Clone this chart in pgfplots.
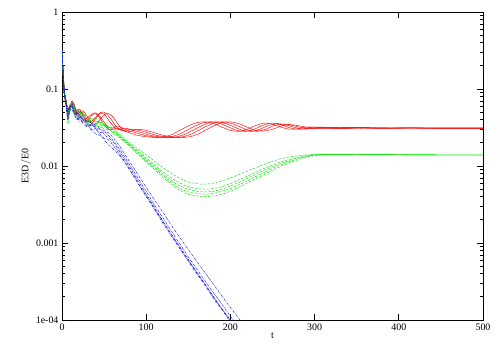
\documentclass[border=0pt]{standalone}
\usepackage{pgfplots}
\pgfplotsset{compat=1.18}
\usepackage{fontspec}
\setmainfont{Liberation Serif}
\definecolor{gpred}{rgb}{1,0,0}
\definecolor{gpgreen}{rgb}{0,0.9,0}
\definecolor{gpblue}{rgb}{0.1,0.1,0.9}
\pgfplotsset{
  redl/.style={gpred, line width=0.45pt, smooth, tension=0.5},
  grnl/.style={gpgreen, line width=0.45pt, smooth, tension=0.5, dash pattern=on 2.5pt off 1.5pt},
  blul/.style={gpblue, line width=0.45pt, smooth, tension=0.5, dash pattern=on 2.5pt off 1pt on 0.5pt off 1pt},
}
\begin{document}
\begin{tikzpicture}
\useasboundingbox (-62bp,-30bp) rectangle (438bp,320bp);
\begin{axis}[
  at={(0,0)}, anchor=south west,
  width=421bp, height=308bp, scale only axis,
  xmin=0, xmax=500, ymin=1e-4, ymax=1, ymode=log,
  xtick={0,100,200,300,400,500},
  ytick={1e-4,1e-3,1e-2,1e-1,1},
  yticklabels={1e-04,0.001,0.01,0.1,1},
  minor ytick={2e-4,3e-4,4e-4,5e-4,6e-4,7e-4,8e-4,9e-4,
               2e-3,3e-3,4e-3,5e-3,6e-3,7e-3,8e-3,9e-3,
               2e-2,3e-2,4e-2,5e-2,6e-2,7e-2,8e-2,9e-2,
               0.2,0.3,0.4,0.5,0.6,0.7,0.8,0.9},
  tick align=inside, xtick pos=both, ytick pos=both,
  major tick length=6bp, minor tick length=3bp,
  tick style={draw=black, line width=0.8pt},
  minor tick style={draw=black, line width=0.7pt},
  ticklabel style={font=\fontsize{10}{12}\selectfont},
  label style={font=\fontsize{10}{12}\selectfont},
  /pgf/number format/assume math mode=true,
  xlabel={t}, ylabel={E3D\kern0.3pt$/$\kern0.3pt E0},
  xlabel style={yshift=4bp},
  ylabel style={yshift=-2bp},
  axis line style={line width=0.6pt},
  clip=true,
]
% ---------------- red (solid) ----------------
\addplot[redl] table {
0 0.31
1 0.19
2 0.12
3 0.09
5 0.07
7 0.05
9 0.055
12 0.068
15 0.06
18 0.05
21 0.052
25 0.045
30 0.038
35 0.045
40 0.048
45 0.042
50 0.034
55 0.030
60 0.030
65 0.031
70 0.030
80 0.027
90 0.025
100 0.024
110 0.0235
120 0.0238
130 0.0255
140 0.029
150 0.033
160 0.0365
170 0.0375
180 0.0355
190 0.032
200 0.029
210 0.0282
220 0.030
230 0.0335
240 0.036
250 0.035
260 0.032
270 0.030
280 0.0305
290 0.032
300 0.032
310 0.031
320 0.0308
330 0.0313
340 0.0316
350 0.0312
370 0.031
400 0.0312
450 0.031
500 0.031
};
\addplot[redl] table {
0 0.32
1 0.2
2 0.12
3 0.08
5 0.06
7 0.05
9 0.06
12 0.062
15 0.05
18 0.05
21 0.046
25 0.04
30 0.042
35 0.047
40 0.049
45 0.044
50 0.037
55 0.032
60 0.031
65 0.033
70 0.032
78 0.029
88 0.027
98 0.025
108 0.024
118 0.0235
128 0.0238
138 0.0255
148 0.029
158 0.033
168 0.0365
178 0.0375
188 0.0355
198 0.032
208 0.029
218 0.0282
228 0.030
238 0.0335
248 0.036
258 0.035
268 0.032
278 0.030
288 0.0305
298 0.032
308 0.032
318 0.031
328 0.0308
338 0.0313
348 0.0316
358 0.0312
378 0.031
408 0.0312
458 0.031
500 0.031
};
\addplot[redl] table {
0 0.32
1 0.18
2 0.11
3 0.08
5 0.065
7 0.04
9 0.052
12 0.065
15 0.058
18 0.045
21 0.05
25 0.048
30 0.04
35 0.036
40 0.041
45 0.048
50 0.047
55 0.040
60 0.034
65 0.030
70 0.030
75 0.031
85 0.029
95 0.027
105 0.025
115 0.024
125 0.0235
135 0.0238
145 0.0255
155 0.029
165 0.033
175 0.0365
185 0.0375
195 0.0355
205 0.032
215 0.029
225 0.0282
235 0.030
245 0.0335
255 0.0355
265 0.0345
275 0.032
285 0.0302
295 0.0305
305 0.0318
315 0.0318
325 0.031
335 0.0308
345 0.0313
355 0.0316
365 0.0312
385 0.031
415 0.0312
465 0.031
500 0.031
};
\addplot[redl] table {
0 0.32
1 0.19
2 0.12
3 0.09
5 0.07
7 0.055
9 0.06
12 0.058
15 0.048
18 0.052
21 0.055
25 0.045
30 0.038
35 0.038
40 0.043
45 0.049
50 0.050
55 0.045
60 0.038
65 0.032
70 0.029
75 0.029
82 0.030
92 0.029
102 0.027
112 0.025
122 0.024
132 0.0235
142 0.0238
152 0.0255
162 0.029
172 0.033
182 0.0365
192 0.0375
202 0.0355
212 0.032
222 0.029
232 0.0282
242 0.030
252 0.0335
262 0.035
272 0.034
282 0.032
292 0.0305
302 0.0308
312 0.0318
322 0.0318
332 0.031
342 0.0308
352 0.0313
362 0.0315
372 0.0312
392 0.031
422 0.0312
472 0.031
500 0.031
};
\addplot[redl] table {
0 0.32
1 0.2
2 0.13
3 0.09
5 0.06
7 0.048
9 0.058
12 0.07
15 0.06
18 0.048
21 0.05
25 0.052
30 0.044
35 0.036
40 0.035
45 0.040
50 0.046
55 0.048
60 0.044
65 0.037
70 0.031
75 0.028
80 0.028
90 0.030
100 0.029
110 0.027
120 0.025
130 0.024
140 0.0235
150 0.0238
160 0.0255
170 0.029
180 0.033
190 0.0365
200 0.0375
210 0.0355
220 0.032
230 0.029
240 0.0285
250 0.030
260 0.033
270 0.0345
280 0.0335
290 0.032
300 0.031
310 0.0308
320 0.0315
330 0.0317
340 0.0312
350 0.0309
360 0.0312
380 0.0313
400 0.031
450 0.0311
500 0.031
};
% ---------------- green (dashed) ----------------
\addplot[grnl] table {
0 0.32
1 0.19
2 0.12
3 0.085
5 0.06
7 0.035
9 0.05
12 0.065
15 0.05
18 0.04
21 0.048
25 0.045
30 0.036
35 0.033
40 0.038
45 0.037
50 0.034
55 0.033
60 0.031
70 0.025
80 0.020
90 0.0168
100 0.0140
110 0.0115
120 0.0095
130 0.0080
140 0.0069
150 0.0062
160 0.0059
170 0.0058
180 0.0060
190 0.0064
200 0.0070
210 0.0077
220 0.0086
230 0.0095
240 0.0105
250 0.0115
260 0.0124
270 0.0131
280 0.0136
290 0.0139
300 0.0141
320 0.0142
350 0.0141
400 0.0140
450 0.0139
500 0.0139
};
\addplot[grnl] table {
0 0.32
1 0.2
2 0.12
3 0.08
5 0.065
7 0.05
9 0.062
12 0.06
15 0.048
18 0.05
21 0.052
25 0.042
30 0.038
35 0.042
40 0.036
45 0.031
50 0.033
55 0.032
60 0.030
70 0.024
80 0.0195
90 0.0158
100 0.0128
110 0.0103
120 0.0084
130 0.0070
140 0.0060
150 0.0054
160 0.0051
170 0.0050
180 0.0051
190 0.0054
200 0.0059
210 0.0066
220 0.0074
230 0.0083
240 0.0093
250 0.0103
260 0.0113
270 0.0122
280 0.0130
290 0.0136
300 0.0140
320 0.0142
350 0.0141
400 0.0140
450 0.0139
500 0.0139
};
\addplot[grnl] table {
0 0.32
1 0.18
2 0.11
3 0.08
5 0.058
7 0.045
9 0.058
12 0.066
15 0.055
18 0.045
21 0.045
25 0.05
30 0.042
35 0.034
40 0.034
45 0.038
50 0.035
55 0.031
60 0.029
70 0.0235
80 0.019
90 0.0152
100 0.0122
110 0.0098
120 0.0079
130 0.0065
140 0.0055
150 0.0050
160 0.0047
170 0.0046
180 0.0047
190 0.0050
200 0.0055
210 0.0061
220 0.0069
230 0.0078
240 0.0088
250 0.0098
260 0.0108
270 0.0118
280 0.0127
290 0.0134
300 0.0139
320 0.0142
350 0.0141
400 0.0140
450 0.0139
500 0.0139
};
\addplot[grnl] table {
0 0.32
1 0.19
2 0.12
3 0.09
5 0.068
7 0.052
9 0.056
12 0.058
15 0.05
18 0.054
21 0.05
25 0.04
30 0.036
35 0.04
40 0.042
45 0.036
50 0.03
55 0.030
60 0.028
70 0.023
80 0.0185
90 0.0147
100 0.0117
110 0.0094
120 0.0075
130 0.0061
140 0.0051
150 0.0046
160 0.0044
170 0.0043
180 0.0044
190 0.0047
200 0.0051
210 0.0057
220 0.0064
230 0.0073
240 0.0082
250 0.0093
260 0.0104
270 0.0114
280 0.0124
290 0.0132
300 0.0138
320 0.0142
350 0.0141
400 0.0140
450 0.0139
500 0.0139
};
\addplot[grnl] table {
0 0.32
1 0.2
2 0.13
3 0.09
5 0.062
7 0.042
9 0.05
12 0.062
15 0.058
18 0.046
21 0.042
25 0.046
30 0.045
35 0.037
40 0.032
45 0.033
50 0.034
55 0.031
60 0.027
70 0.0225
80 0.018
90 0.0142
100 0.0113
110 0.0090
120 0.0071
130 0.0058
140 0.0048
150 0.0043
160 0.0041
170 0.0040
180 0.0041
190 0.0043
200 0.0047
210 0.0053
220 0.0060
230 0.0068
240 0.0077
250 0.0088
260 0.0099
270 0.0110
280 0.0120
290 0.0129
300 0.0136
320 0.0141
350 0.0141
400 0.0140
450 0.0139
500 0.0139
};
% ---------------- blue (dash-dot) ----------------
\addplot[blul] table {
0 0.32
1 0.19
2 0.12
3 0.085
5 0.062
7 0.04
9 0.055
12 0.06
15 0.045
18 0.04
21 0.045
25 0.04
30 0.033
35 0.035
40 0.034
45 0.030
50 0.029
55 0.027
60 0.024
70 0.017
80 0.0115
90 0.0078
100 0.0053
110 0.0036
120 0.0025
130 0.0017
140 0.00118
150 0.00082
160 0.00058
170 0.00041
180 0.00029
190 0.000205
200 0.000145
210 0.000105
220 0.000075
};
\addplot[blul] table {
0 0.32
1 0.2
2 0.12
3 0.08
5 0.066
7 0.05
9 0.06
12 0.058
15 0.048
18 0.048
21 0.042
25 0.036
30 0.038
35 0.036
40 0.03
45 0.027
50 0.028
55 0.025
60 0.022
70 0.0155
80 0.0105
90 0.0070
100 0.0047
110 0.0031
120 0.0021
130 0.00142
140 0.00097
150 0.00066
160 0.00046
170 0.00032
180 0.000225
190 0.00016
200 0.000112
210 0.00008
};
\addplot[blul] table {
0 0.32
1 0.18
2 0.11
3 0.08
5 0.058
7 0.044
9 0.056
12 0.064
15 0.052
18 0.042
21 0.04
25 0.042
30 0.035
35 0.029
40 0.031
45 0.030
50 0.026
55 0.023
60 0.021
70 0.0145
80 0.0098
90 0.0065
100 0.0043
110 0.0029
120 0.0019
130 0.0013
140 0.00089
150 0.00061
160 0.00042
170 0.00029
180 0.00020
190 0.00014
200 0.00010
210 0.00007
};
\addplot[blul] table {
0 0.32
1 0.19
2 0.12
3 0.09
5 0.07
7 0.054
9 0.055
12 0.054
15 0.046
18 0.05
21 0.046
25 0.036
30 0.032
35 0.034
40 0.032
45 0.026
50 0.023
55 0.022
60 0.019
70 0.0135
80 0.0092
90 0.0061
100 0.0041
110 0.0028
120 0.0019
130 0.00128
140 0.00087
150 0.00060
160 0.00041
170 0.00029
180 0.00020
190 0.000138
200 0.000097
210 0.000068
};
\addplot[blul] table {
0 0.32
1 0.2
2 0.13
3 0.09
5 0.06
7 0.042
9 0.05
12 0.06
15 0.056
18 0.044
21 0.038
25 0.04
30 0.038
35 0.03
40 0.026
45 0.025
50 0.022
55 0.019
60 0.017
70 0.013
80 0.0090
90 0.0060
100 0.0040
110 0.0027
120 0.0018
130 0.00122
140 0.00084
150 0.00058
160 0.00040
170 0.00028
180 0.00019
190 0.000135
200 0.000095
210 0.000066
};
\end{axis}
\end{tikzpicture}
\end{document}
